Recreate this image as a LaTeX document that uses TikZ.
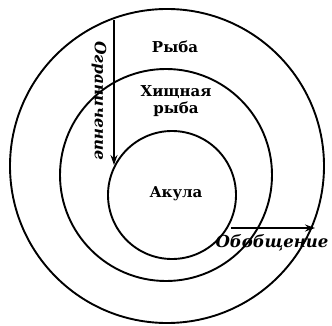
\documentclass[tikz,border=0pt]{standalone}
\usepackage{fontspec}
\setmainfont{DejaVu Serif}
\usetikzlibrary{arrows.meta}
\begin{document}
\begin{tikzpicture}[x=1pt,y=-1pt,
  ring/.style={draw=black,line width=1.9pt},
  lbl/.style={font=\bfseries\fontsize{15}{16.5}\selectfont,align=center,inner sep=0pt},
  ilbl/.style={font=\bfseries\itshape\fontsize{15.5}{17}\selectfont,inner sep=0pt},
  arr/.style={line width=1.3pt,-{Stealth[length=10pt,width=7pt]}}]
\useasboundingbox (0,0) rectangle (332,326);
\node[ring,circle,minimum size=314pt,inner sep=0pt] (outer) at (167,166) {};
\node[ring,circle,minimum size=212pt,inner sep=0pt] (middle) at (166,175) {};
\node[ring,circle,minimum size=128pt,inner sep=0pt] (inner) at (172,195) {};
\node[lbl] (fish) at (175,47) {Рыба};
\node[lbl] (pred) at (176,101) {Хищная\\рыба};
\node[lbl] (shark) at (176,194) {Акула};
\coordinate (a1) at (114,20);
\coordinate (a2) at (114,165);
\draw[arr] (a1) -- (a2);
\node[ilbl,rotate=-90] (restr) at (99,101) {Ограничение};
\coordinate (b1) at (231,228);
\coordinate (b2) at (315,228);
\draw[arr] (b1) -- (b2);
\node[ilbl,font=\bfseries\itshape\fontsize{16.5}{18}\selectfont] (gen) at (272,243) {Обобщение};
\end{tikzpicture}
\end{document}
